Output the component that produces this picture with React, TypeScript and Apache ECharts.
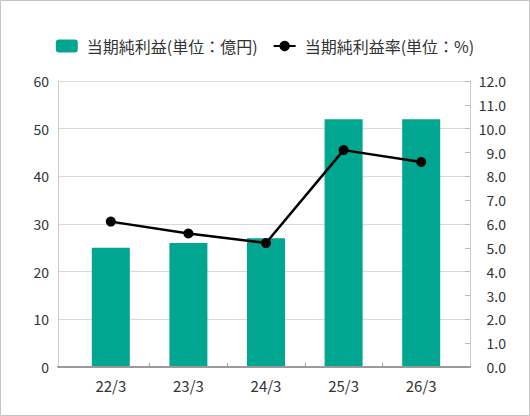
import React, { useEffect, useRef } from "react";
import * as echarts from "echarts";

const categories = ["22/3", "23/3", "24/3", "25/3", "26/3"];
const profitValues = [25, 26, 27, 52, 52];
const marginValues = [6.1, 5.6, 5.2, 9.1, 8.6];
const profitName = "当期純利益(単位：億円)";
const marginName = "当期純利益率(単位：%)";

const FONT = "'Noto Sans CJK JP', 'Noto Sans', sans-serif";
const TEXT = "#333333";
const BAR = "#00a68f";

export default function App() {
  const ref = useRef<HTMLDivElement>(null);
  useEffect(() => {
    document.body.style.margin = "0";
    if (!ref.current) return;
    const chart = echarts.init(ref.current, undefined, { renderer: "svg" });
    chart.setOption({
      animation: false,
      textStyle: { fontFamily: FONT, color: TEXT },
      graphic: [
        {
          type: "rect",
          shape: { x: 0.5, y: 0.5, width: 529, height: 415 },
          style: { fill: "none", stroke: "#c4c4c4", lineWidth: 1 },
          z: 100,
        },
      ],
      legend: {
        left: "center",
        top: 33,
        itemGap: 15,
        itemWidth: 22,
        itemHeight: 13,
        textStyle: { fontFamily: FONT, fontSize: 16, color: TEXT, padding: [0, 0, 0, 4] },
        data: [{ name: profitName }, { name: marginName }],
      },
      grid: [
        { left: 58, right: 60, top: 81, bottom: 49 },
        { left: 72, right: 70, top: 81, bottom: 49 },
      ],
      xAxis: [
        {
          gridIndex: 0,
          type: "value",
          min: 0,
          max: 1,
          axisLine: { show: true, lineStyle: { color: "#9a9a9a", width: 2 } },
          axisTick: { show: false },
          axisLabel: { show: false },
          splitLine: { show: false },
          z: 5,
        },
        {
          gridIndex: 1,
          type: "category",
          data: categories,
          axisLine: { show: false },
          axisTick: { show: false },
          axisLabel: { fontFamily: FONT, fontSize: 15, color: TEXT, margin: 11 },
        },
        {
          gridIndex: 1,
          type: "value",
          min: 0,
          max: 5,
          interval: 1,
          axisLine: { show: false },
          axisLabel: { show: false },
          splitLine: { show: false },
          axisTick: {
            show: true,
            length: 4,
            customValues: [1, 2, 3, 4],
            lineStyle: { color: "#9a9a9a", width: 1 },
          },
        },
      ],
      yAxis: [
        {
          gridIndex: 0,
          type: "value",
          min: 0,
          max: 60,
          interval: 10,
          axisLine: { show: true, lineStyle: { color: "#cccccc", width: 1 } },
          axisTick: { show: false },
          axisLabel: { fontFamily: FONT, fontSize: 14, color: TEXT, margin: 9 },
          splitLine: { show: true, lineStyle: { color: "#d9d9d9", width: 1 } },
        },
        {
          gridIndex: 0,
          type: "value",
          position: "right",
          min: 0,
          max: 12,
          interval: 1,
          axisLine: { show: true, lineStyle: { color: "#cccccc", width: 1 } },
          axisTick: { show: true, inside: true, length: 5, lineStyle: { color: "#bbbbbb" } },
          axisLabel: {
            fontFamily: FONT,
            fontSize: 14,
            color: TEXT,
            align: "right",
            margin: 36,
            formatter: (v: number) => v.toFixed(1),
          },
          splitLine: { show: false },
        },
        { gridIndex: 1, type: "value", min: 0, max: 60, show: false },
        { gridIndex: 1, type: "value", min: 0, max: 12, show: false },
      ],
      series: [
        {
          name: profitName,
          type: "bar",
          xAxisIndex: 1,
          yAxisIndex: 2,
          data: profitValues,
          barWidth: 38,
          itemStyle: { color: BAR },
        },
        {
          name: marginName,
          type: "line",
          xAxisIndex: 1,
          yAxisIndex: 3,
          data: marginValues,
          symbol: "circle",
          symbolSize: 10,
          lineStyle: { color: "#000000", width: 2.5 },
          itemStyle: { color: "#000000" },
          z: 10,
        },
      ],
    });
    return () => chart.dispose();
  }, []);
  return (
    <div
      ref={ref}
      style={{ position: "absolute", left: 0, top: 0, width: 530, height: 416 }}
    />
  );
}
